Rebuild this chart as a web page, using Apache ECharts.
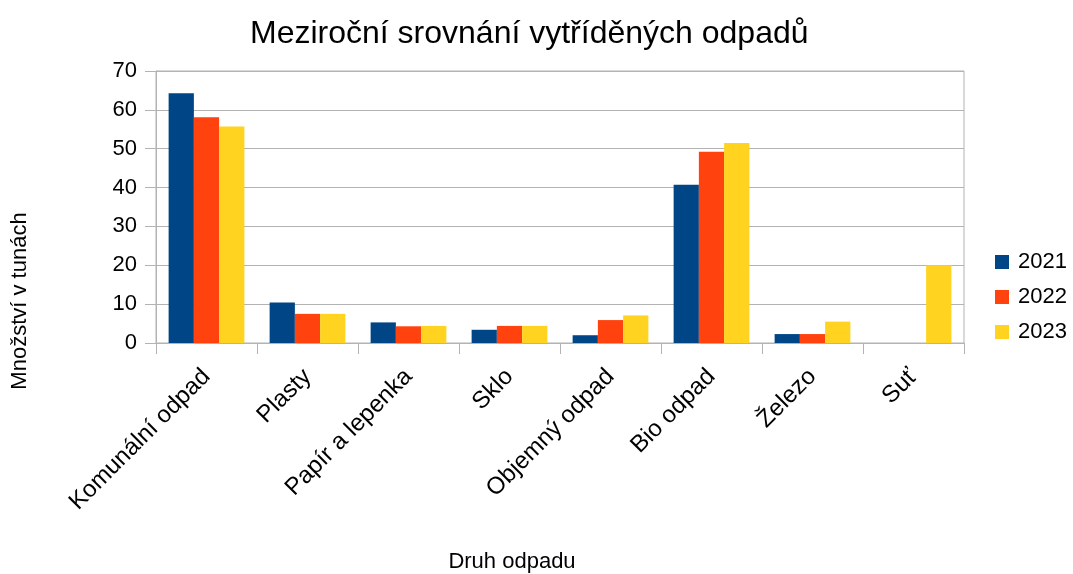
<!DOCTYPE html>
<html>
<head>
<meta charset="utf-8">
<script src="https://cdn.jsdelivr.net/npm/echarts@6/dist/echarts.min.js"></script>
<style>html,body{margin:0;padding:0;background:#fff;}#c{width:1073px;height:574px;}</style>
</head>
<body>
<div id="c"></div>
<script>
const categories = ['Komunální odpad', 'Plasty', 'Papír a lepenka', 'Sklo', 'Objemný odpad', 'Bio odpad', 'Železo', 'Suť'];
const seriesNames = ['2021', '2022', '2023'];
const values2021 = [64.3, 10.4, 5.3, 3.4, 2.0, 40.7, 2.3, 0];
const values2022 = [58.1, 7.5, 4.3, 4.4, 5.9, 49.2, 2.3, 0];
const values2023 = [55.7, 7.5, 4.4, 4.4, 7.1, 51.5, 5.5, 20.0];
const colors = ['#004586', '#ff420e', '#ffd320'];
const titleText = 'Meziroční srovnání vytříděných odpadů';
const yName = 'Množství v tunách';
const xName = 'Druh odpadu';

const font = 'Liberation Sans, Arial, sans-serif';
const chart = echarts.init(document.getElementById('c'));
const allValues = [values2021, values2022, values2023];
chart.setOption({
  animation: false,
  textStyle: { fontFamily: font },
  title: {
    text: titleText, left: 250, top: 13,
    textStyle: { fontFamily: font, fontSize: 32, fontWeight: 'normal', color: '#000' },
    padding: [5, 0, 5, 0]
  },
  legend: {
    orient: 'vertical', left: 990, top: 246, itemWidth: 14, itemHeight: 14, itemGap: 13,
    icon: 'rect',
    textStyle: { fontFamily: font, fontSize: 22, color: '#000', padding: [0, 0, 0, 4] },
    data: seriesNames
  },
  grid: { left: 156, right: 109, top: 71, bottom: 231, show: true, borderColor: '#b3b3b3', borderWidth: 1, containLabel: false },
  xAxis: {
    type: 'category', data: categories,
    axisLine: { lineStyle: { color: '#b3b3b3' } },
    axisTick: { show: true, length: 11, lineStyle: { color: '#b3b3b3' } },
    axisLabel: { rotate: 45, interval: 0, margin: 30, fontSize: 24, color: '#000', fontFamily: font }
  },
  yAxis: {
    type: 'value', min: 0, max: 70, interval: 10,
    axisLine: { show: true, lineStyle: { color: '#b3b3b3' } },
    axisTick: { show: true, length: 11, lineStyle: { color: '#b3b3b3' } },
    splitLine: { lineStyle: { color: '#b3b3b3' } },
    axisLabel: { margin: 19, fontSize: 22, color: '#000', fontFamily: font }
  },
  series: seriesNames.map((n, i) => ({
    name: n, type: 'bar', data: allValues[i], barGap: '0%', barCategoryGap: '25%',
    itemStyle: { color: colors[i] }
  })),
  graphic: [
    { type: 'text', x: 20, y: 301, rotation: Math.PI / 2,
      style: { text: yName, font: '22px ' + font, fill: '#000', align: 'center', verticalAlign: 'middle' } },
    { type: 'text', x: 512, y: 562,
      style: { text: xName, font: '22px ' + font, fill: '#000', align: 'center', verticalAlign: 'middle' } }
  ]
});
</script>
</body>
</html>
